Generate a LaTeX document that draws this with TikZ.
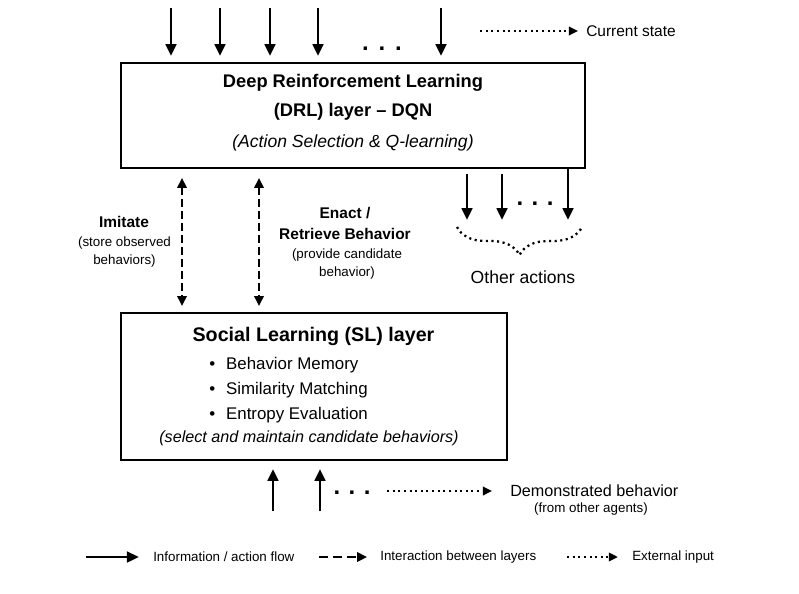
\documentclass[tikz,border=0pt]{standalone}
\usepackage{fontspec}
\setmainfont{Liberation Sans}
\usetikzlibrary{arrows.meta, positioning, decorations.pathreplacing}

\begin{document}
\begin{tikzpicture}[
            x = 0.025cm, % one unit per pixel
            y = -0.025cm,
            > = {Triangle[length=8.5pt, width=7.5pt]}, % arrow head style
            line join = miter
        ]

        \tikzstyle{layer}=[
            draw = black,
            line width = 1.3pt,
            inner sep = 0pt
        ]
        \tikzstyle{flow}=[->, line width = 2pt]
        \tikzstyle{dashline}=[line width = 1.7pt, dash pattern = on 5.5pt off 3pt]
        \tikzstyle{interact}=[dashline, {Triangle[length=7pt, width=6.5pt]}-{Triangle[length=7pt, width=6.5pt]}]
        \tikzstyle{dotline}=[line width = 1.6pt, dash pattern = on 1.5pt off 2.5pt]
        \tikzstyle{ext}=[dotline, -{Triangle[length=6.5pt, width=6pt]}]
        \tikzstyle{txt}=[inner sep = 0pt, align = center]
        \tikzstyle{dotrow}=[inner sep = 0pt, anchor = base, font = \bfseries\fontsize{17}{17}\selectfont]

        \useasboundingbox (0,0) rectangle (799,593);

        % the two layers
        \node[layer, minimum width = 11.6cm, minimum height = 2.625cm] (drl) at (353,115.5) {};
        \node[layer, minimum width = 9.65cm, minimum height = 3.675cm] (sl) at (314,386.5) {};

        \node[txt, font = \bfseries\fontsize{13}{20.5}\selectfont] (drltitle) at (353,97) {Deep Reinforcement Learning\\(DRL) layer -- DQN};
        \node[txt, font = \itshape\fontsize{12.5}{15}\selectfont] (drlsub) at (353,143) {(Action Selection \& Q-learning)};

        \node[txt, font = \bfseries\fontsize{14}{17}\selectfont] (sltitle) at (313.5,336) {Social Learning (SL) layer};
        \node[txt, anchor = west, font = \fontsize{12}{14}\selectfont] (memory) at (209,365) {\textbullet\hspace{7.8pt}Behavior Memory};
        \node[txt, anchor = west, font = \fontsize{12}{14}\selectfont] (matching) at (209,390) {\textbullet\hspace{7.8pt}Similarity Matching};
        \node[txt, anchor = west, font = \fontsize{12}{14}\selectfont] (entropy) at (209,415) {\textbullet\hspace{7.8pt}Entropy Evaluation};
        \node[txt, font = \itshape\fontsize{11.5}{14}\selectfont] (slsub) at (309,438) {(select and maintain candidate behaviors)};

        % current state input
        \foreach \x [count=\i] in {171,220,270,318,441} {
            \coordinate (state\i) at (\x,8);
            \draw[flow, shorten > = 4.3pt] (state\i) -- (state\i |- drl.north);
        }
        \node[dotrow] (statedots) at (382,50) {.\hspace{7pt}.\hspace{7pt}.};
        \node[txt, anchor = west, font = \fontsize{11}{13}\selectfont] (curstate) at (586,31) {Current state};
        \coordinate (curstart) at (480,31);
        \draw[ext, shorten > = 5.7pt] (curstart) -- (curstate.west);

        % interaction between layers
        \coordinate (imit) at (182,0);
        \coordinate (enac) at (259,0);
        \draw[interact, shorten < = 6.4pt, shorten > = 4.3pt] (imit |- drl.south) -- (imit |- sl.north);
        \draw[interact, shorten < = 6.4pt, shorten > = 4.3pt] (enac |- drl.south) -- (enac |- sl.north);

        \node[txt, font = \bfseries\fontsize{11}{13}\selectfont] (imitate) at (124,222) {Imitate};
        \node[txt, font = \fontsize{9.5}{12.8}\selectfont] (imitatenote) at (124.5,252) {(store observed\\behaviors)};
        \node[txt, font = \bfseries\fontsize{11}{15}\selectfont] (enact) at (345,223.5) {Enact /\\Retrieve Behavior};
        \node[txt, font = \fontsize{9.5}{12.8}\selectfont] (enactnote) at (347,264) {(provide candidate\\behavior)};

        % other actions
        \coordinate (act1) at (467,220);
        \coordinate (act2) at (502,220);
        \coordinate (act3) at (568,220);
        \draw[flow, shorten < = 3.5pt] (act1 |- drl.south) -- (act1);
        \draw[flow, shorten < = 3.5pt] (act2 |- drl.south) -- (act2);
        \draw[flow] (act3 |- drl.south) -- (act3);
        \node[dotrow] (actdots) at (535,205) {.\hspace{6pt}.\hspace{6pt}.};

        \coordinate (bracel) at (457,227);
        \coordinate (bracer) at (582,227);
        \draw[dotline, decorate, decoration = {brace, mirror, amplitude = 0.7cm}] (bracel) -- (bracer);
        \node[txt, font = \fontsize{12.5}{15}\selectfont] (otheractions) at (523,277) {Other actions};

        % demonstrated behavior
        \coordinate (dem1) at (273,511);
        \coordinate (dem2) at (320,511);
        \draw[flow, shorten > = 5.7pt] (dem1) -- (dem1 |- sl.south);
        \draw[flow, shorten > = 5.7pt] (dem2) -- (dem2 |- sl.south);
        \node[dotrow] (demdots) at (352,494) {.\hspace{6pt}.\hspace{6pt}.};
        \node[txt, anchor = west, font = \fontsize{11.5}{14}\selectfont] (demo) at (510,491) {Demonstrated behavior};
        \node[txt, font = \fontsize{9.5}{12}\selectfont] (demonote) at (591,509) {(from other agents)};
        \coordinate (demstart) at (387,491);
        \draw[ext, shorten > = 12.8pt] (demstart) -- (demo.west);

        % legend
        \node[txt, anchor = west, font = \fontsize{9.5}{12}\selectfont] (lflow) at (153,557) {Information / action flow};
        \node[txt, anchor = west, font = \fontsize{9.5}{12}\selectfont] (linteract) at (380,557) {Interaction between layers};
        \node[txt, anchor = west, font = \fontsize{9.5}{12}\selectfont] (lext) at (632,557) {External input};
        \coordinate (lflowstart) at (86,557);
        \coordinate (linteractstart) at (319,557);
        \coordinate (lextstart) at (567,557);
        \draw[flow, shorten > = 10pt] (lflowstart) -- (lflow.west);
        \draw[dashline, -{Triangle[length=7pt, width=6.5pt]}, dash pattern = on 6.4pt off 3.5pt, shorten > = 9.2pt] (linteractstart) -- (linteract.west);
        \draw[ext, shorten > = 10pt] (lextstart) -- (lext.west);

    \end{tikzpicture}
\end{document}
